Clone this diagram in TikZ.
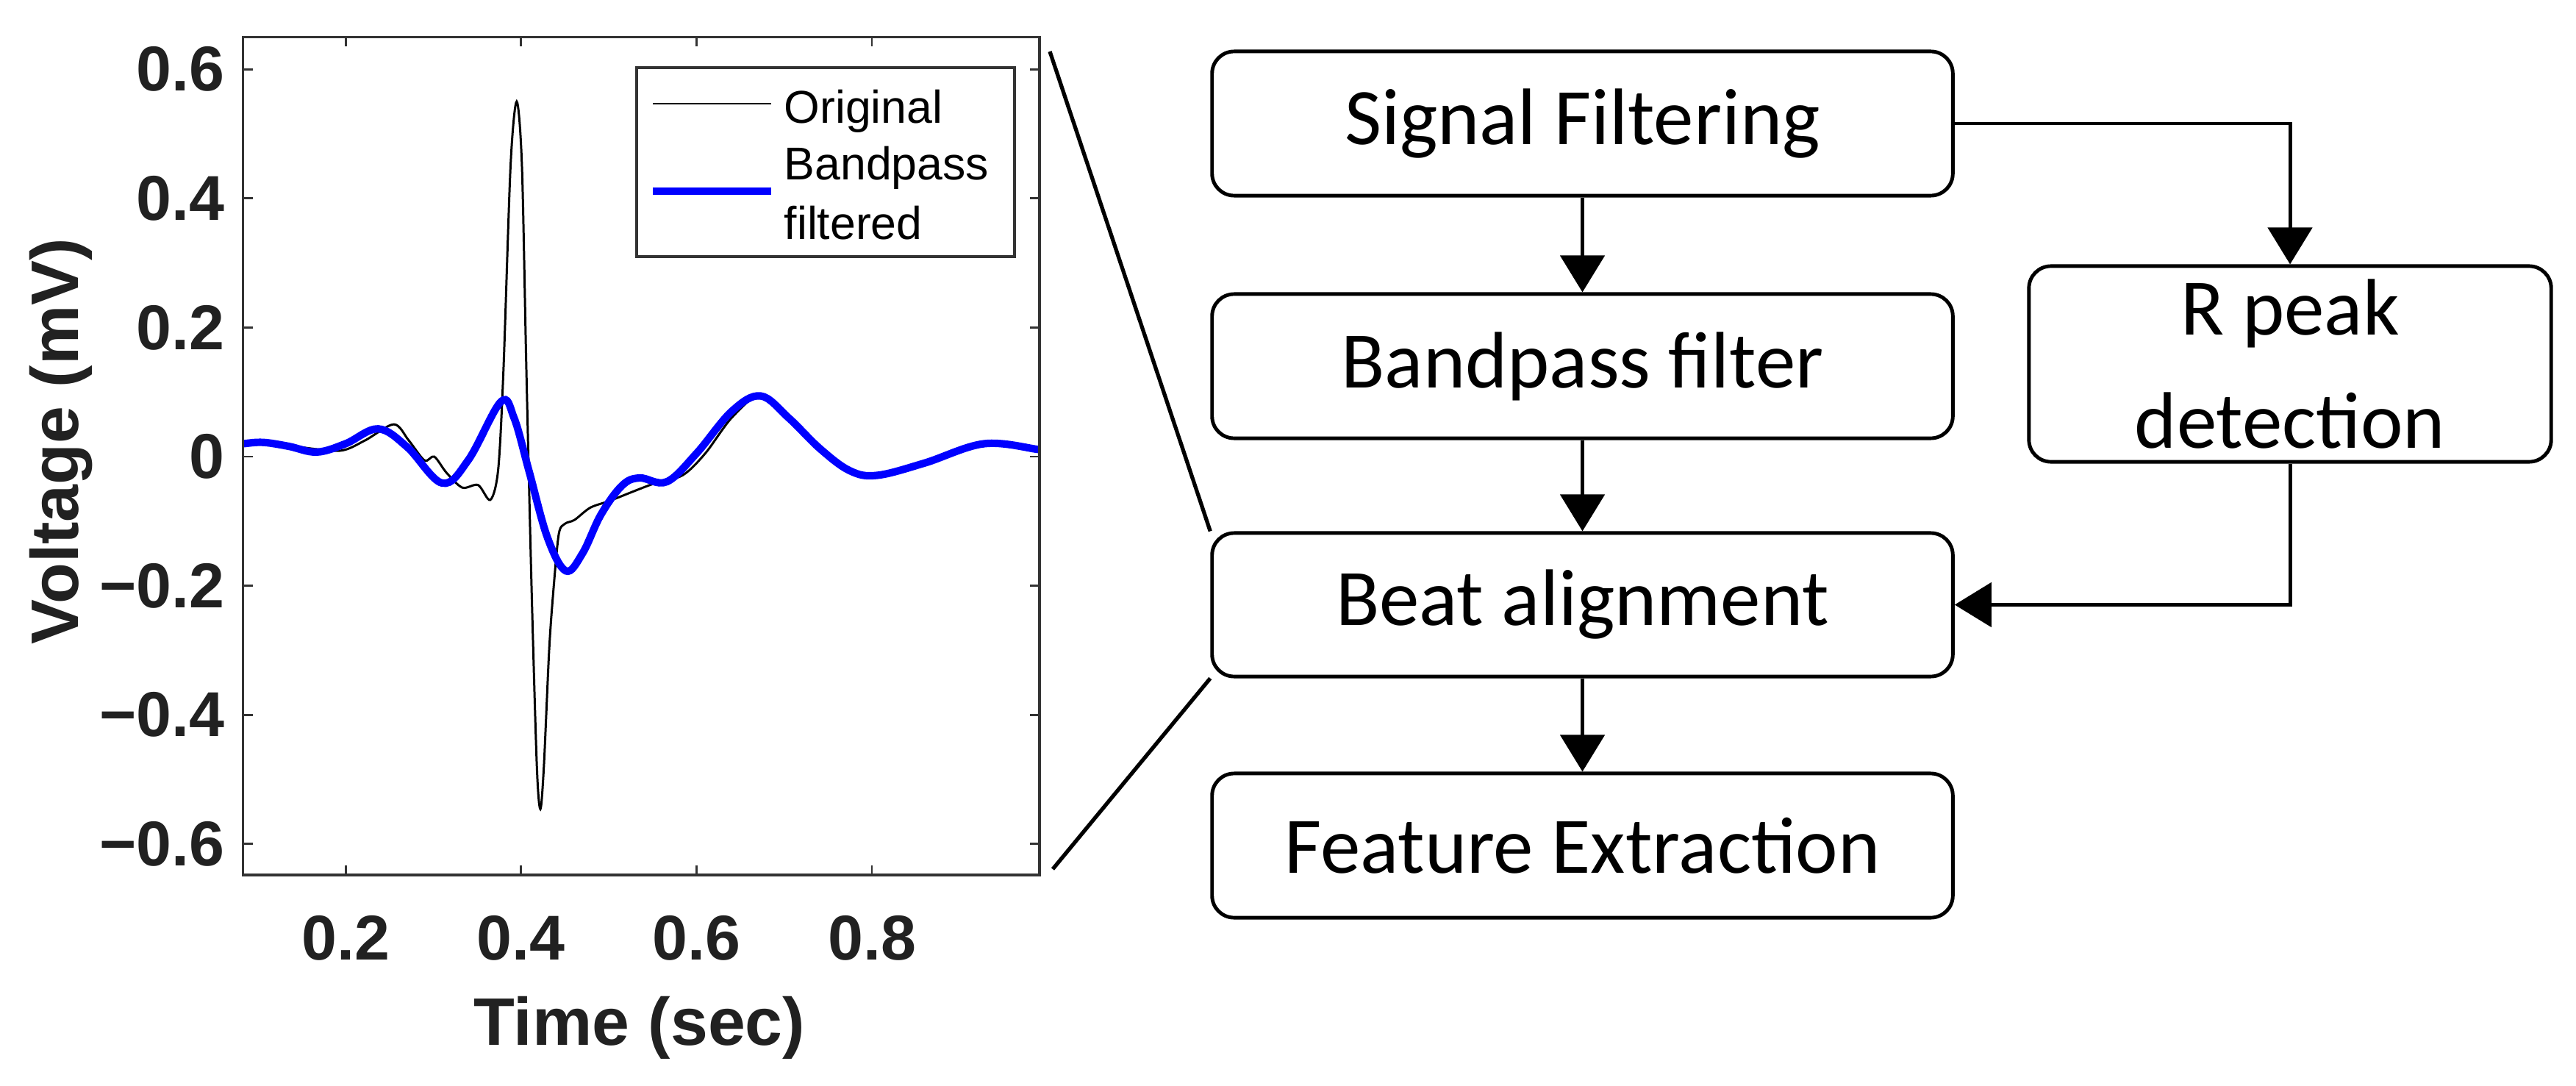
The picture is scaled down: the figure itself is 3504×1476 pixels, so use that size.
\documentclass[tikz,border=0pt]{standalone}
\usepackage{fontspec}
\setmainfont{Liberation Sans}
\newfontfamily\boxfont{Carlito}
\usetikzlibrary{arrows.meta}
\begin{document}
\begin{tikzpicture}[x=0.01cm,y=-0.01cm,
  box/.style={draw,line width=1.4pt,rounded corners=0.3cm,font=\boxfont\fontsize{31}{36}\selectfont,align=center,inner sep=0pt},
  flow/.style={line width=1.4pt,-{Triangle[length=0.5cm,width=0.6cm]}},
  tickl/.style={font=\bfseries\fontsize{24.5}{28}\selectfont,text=black!87},
  axl/.style={font=\bfseries\fontsize{26}{30}\selectfont,text=black!87},
  leg/.style={font=\fontsize{17.8}{22.5}\selectfont,anchor=base west,inner sep=0pt}]
\path[use as bounding box] (0,0) rectangle (3504,1476);

% ---- plot ----
\begin{scope}[shift={(231.5,621)},x=11.925cm,y=8.775cm]
  \coordinate (ll) at (0.083,-0.648);
  \coordinate (ur) at (0.991,0.65);
  \begin{scope}
    \clip (ll) rectangle (ur);
    \draw[line width=0.85pt,black] plot[smooth,tension=0.5] coordinates {
      (0.070,0.018)(0.083,0.020)(0.106,0.022)(0.141,0.016)(0.193,0.009)(0.222,0.025)(0.255,0.050)(0.272,0.025)(0.290,-0.006)(0.301,0.000)(0.315,-0.025)(0.333,-0.048)(0.351,-0.044)(0.365,-0.067)(0.374,-0.019)(0.380,0.137)(0.388,0.45)(0.395,0.55)(0.401,0.45)(0.406,0.137)(0.412,-0.205)(0.418,-0.48)(0.422,-0.546)(0.426,-0.48)(0.432,-0.30)(0.437,-0.205)(0.443,-0.12)(0.450,-0.104)(0.461,-0.098)(0.479,-0.079)(0.502,-0.068)(0.549,-0.043)(0.584,-0.029)(0.610,0.005)(0.640,0.060)(0.673,0.096)(0.705,0.065)(0.741,0.012)(0.770,-0.020)(0.806,-0.029)(0.860,-0.010)(0.928,0.020)(0.99,0.013)(1.0,0.012)};
    \draw[line width=2.9pt,blue] plot[smooth,tension=0.6] coordinates {
      (0.070,0.018)(0.083,0.020)(0.106,0.022)(0.135,0.016)(0.167,0.007)(0.200,0.020)(0.237,0.043)(0.270,0.015)(0.310,-0.041)(0.340,-0.005)(0.377,0.085)(0.392,0.060)(0.409,-0.022)(0.430,-0.125)(0.451,-0.177)(0.470,-0.150)(0.491,-0.090)(0.515,-0.045)(0.535,-0.033)(0.566,-0.039)(0.600,0.005)(0.640,0.070)(0.673,0.094)(0.705,0.060)(0.741,0.012)(0.775,-0.022)(0.806,-0.029)(0.860,-0.010)(0.928,0.020)(0.99,0.011)(1.0,0.010)};
  \end{scope}
  \draw[line width=0.9pt,black!80] (ll) rectangle (ur);
  \foreach \v/\lab in {0.6/0.6,0.4/0.4,0.2/0.2,0/0,-0.2/{\symbol{"2212}0.2},-0.4/{\symbol{"2212}0.4},-0.6/{\symbol{"2212}0.6}}{
    \draw[line width=0.8pt,black!80] (0.083,\v) -- ++(0.011,0);
    \draw[line width=0.8pt,black!80] (0.991,\v) -- ++(-0.011,0);
    \node[tickl,anchor=east,inner sep=0pt] (yl\v) at (0.0625,\v) {\lab};
  }
  \foreach \t in {0.2,0.4,0.6,0.8}{
    \draw[line width=0.8pt,black!80] (\t,-0.648) -- ++(0,0.015);
    \draw[line width=0.8pt,black!80] (\t,0.65) -- ++(0,-0.015);
    \node[tickl,inner sep=0pt] (xl\t) at (\t,-0.746) {\t};
  }
\end{scope}
\node[axl] (xlab) at (870,1398) {Time (sec)};
\node[axl,rotate=90] (ylab) at (83,600) {Voltage (mV)};

% legend
\draw[line width=0.9pt,black!80,fill=white] (866,92) rectangle (1380,349);
\draw[line width=0.85pt] (888,141) -- (1049,141);
\draw[line width=2.9pt,blue] (888,260) -- (1049,260);
\node[leg] (lo) at (1066,167) {Original};
\node[leg] (lb) at (1066,245) {Bandpass};
\node[leg] (lf) at (1066,325) {filtered};

% ---- flowchart ----
\node[box,minimum width=10.07cm,minimum height=1.96cm] (sig) at (2152.5,168) {Signal Filtering};
\node[box,minimum width=10.07cm,minimum height=1.96cm] (bp) at (2152.5,498) {Bandpass filter};
\node[box,minimum width=10.07cm,minimum height=1.95cm] (beat) at (2152.5,822.5) {Beat alignment};
\node[box,minimum width=10.07cm,minimum height=1.96cm] (feat) at (2152.5,1150) {Feature Extraction};
\node[box,minimum width=7.1cm,minimum height=2.66cm,font=\boxfont\fontsize{31}{44}\selectfont] (rp) at (3115,495) {R peak\\detection};

\draw[flow] (sig) -- (bp);
\draw[flow] (bp) -- (beat);
\draw[flow] (beat) -- (feat);
\draw[flow] (sig.east) -| (rp.north);
\draw[flow] (rp.south) |- (beat.east);

% zoom lines
\coordinate (zt) at (1428,70);
\coordinate (zb) at (1432,1182);
\draw[line width=1.5pt] (zt) -- (beat.north west);
\draw[line width=1.5pt] (zb) -- (beat.south west);
\end{tikzpicture}
\end{document}
